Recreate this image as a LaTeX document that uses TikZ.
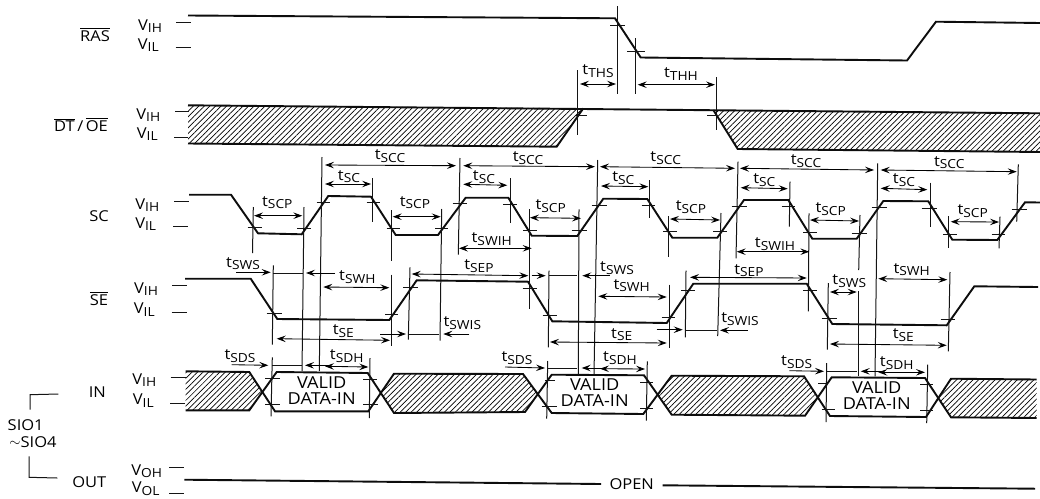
\documentclass[tikz,border=0pt]{standalone}
\usepackage{fontspec}
\setmainfont[FakeStretch=1.1]{Open Sans}
\usetikzlibrary{arrows.meta,patterns.meta}
\newcommand\subt[1]{\raisebox{-2.4pt}{\fontsize{12.5}{13}\selectfont #1}}
\newcommand\tim[1]{t\subt{#1}}
\newcommand\ovl[1]{\leavevmode\vbox{\hrule height .9pt\kern 1.3pt\hbox{#1}}}
\tikzset{
  signal/.style={line width=1.9pt,line join=miter,black!95},
  fine/.style={line width=1pt,black!92},
  dimboth/.style={line width=.85pt,{Stealth[length=9pt,width=6.5pt,inset=3.5pt]}-{Stealth[length=9pt,width=6.5pt,inset=3.5pt]}},
  dimone/.style={line width=.85pt,-{Stealth[length=9pt,width=6.5pt,inset=3.5pt]}},
  txt/.style={inner sep=0pt,font=\fontsize{15}{16}\selectfont},
  hatch/.style={pattern={Lines[angle=45,distance=3.9pt,line width=.7pt]},draw=none}
}
\begin{document}
\begin{tikzpicture}[x=1pt,y=-1pt]
\useasboundingbox[fill=white] (0,0) rectangle (1040,498);
% hatching
\path[hatch] (188,105.3)--(583.3,108.3)--(556.7,146.7)--(188,143.5)--cycle;
\path[hatch] (713.3,110)--(1040,113)--(1040,152)--(737.7,149)--cycle;
\path[hatch] (185.7,371.3)--(249.3,372)--(262.5,391)--(249.3,410.3)--(185.7,410.3)--cycle;
\path[hatch] (381,392)--(394,373.7)--(523,374)--(537.5,393.5)--(525,412)--(394,413)--cycle;
\path[hatch] (657.7,395)--(671.7,375.7)--(804,376.3)--(818,396)--(805,415.7)--(671.7,414.7)--cycle;
\path[hatch] (938,398)--(951,378.7)--(1036.5,379.5)--(1036.5,418)--(951,417.3)--cycle;
% signals
\draw[signal] (188,15.5)--(615,18.3)--(640.7,57.5)--(907,60.5)--(936,21.7)--(1040,23);
\draw[signal] (188,105.3)--(1040,113.3);
\draw[signal] (188,143.5)--(556.7,146.7)--(583.3,108.3);
\draw[signal] (713.3,110)--(737.7,149)--(1040,152);
\draw[signal] (189,194.7)--(231,194.7)--(258,233.3)--(301.7,234.3)--(328.3,196)--(371,196.7)--(395.7,235)--(438,235)--(465.7,197.7)--(508.3,197.7)--(531.7,235.7)--(577.3,236)--(603.3,198.7)--(647.3,199)--(672.3,237.7)--(717.3,237.7)--(744,200)--(788.3,200)--(812.3,238.7)--(856.7,238.7)--(883.3,201)--(928.3,201.3)--(952.3,239.7)--(997.3,240)--(1025,202.3)--(1040,202.5);
\draw[signal] (185,278.7)--(250.7,278.7)--(277.3,319)--(389.3,320)--(416.7,280.3)--(528,281.7)--(552.3,321.3)--(666.7,323)--(693.3,283.7)--(806.7,283.7)--(832.3,324)--(946.7,325.3)--(974.3,286.3)--(1038,287);
\draw[signal] (185.7,371.3)--(249.3,372)--(275,411.3)--(368.3,411.3)--(394,373.7)--(523,374)--(551.7,413)--(643.3,414)--(671.7,375.7)--(804,376.3)--(830,416)--(926,417)--(951,378.7)--(1036.5,379.5);
\draw[signal] (185.7,410.3)--(249.3,410.3)--(276.7,372)--(367.7,373)--(394,413)--(525,412)--(551.7,374.7)--(644,375.3)--(671.7,414.7)--(805,415.7)--(831.7,377.3)--(925,378)--(951,417.3)--(1036.5,418);
\draw[signal] (184.3,479.7)--(601,484);
\node[txt] (open) at (631.7,484) {OPEN};
\draw[signal] (662.7,485.3)--(1035,488.7);
% level dashes
\foreach \a/\b/\y in {176/190.7/22.3,175.7/190.7/47.7,175/189.3/111.7,174.3/188.3/137.3,174.3/188.7/201,173.3/188.3/226.7,172.3/187.3/285.3,171.7/186.7/312.3,170.7/185.7/377.3,170/185/403,169.3/184.3/467.3,169.3/184.3/493}
  \draw[fine] (\a,\y)--(\b,\y);
% reference ticks
\foreach \a/\b/\y in {610/625/25.7,627/645/51.7,575/587/115,707/717/115,
 247.5/262/227.3,297/311/228,316.7/330/202.3,366.7/380/202.3,386.7/400/228.3,435/448.3/228.7,452.7/466.7/203.3,503/516.7/204,523/537/230,571.7/586.7/230.7,591.7/606.7/205,641.7/655/205.7,663/677/231.7,713/727/231.7,731.7/746.7/206.7,781.7/795/206.7,803/816.7/232.3,851.7/866.7/233,871.7/886.7/207.3,921.7/936.7/208,943/956.7/234.3,991.7/1005/234.3,1011.7/1026.7/209,
 266.7/281.7/313,385/398.3/314.7,403.3/418.3/287.3,522.7/536.7/288,542.7/556.7/315.7,661.7/675/317,681.3/695/290.3,803.3/816.7/290.3,821.7/836.7/318,940.7/955/319,
 265/280/378,363/376.7/379.7,363/378/404.7,265/280/404,545/555/380.7,640/653/382,541.7/556.7/406.3,640/653/408,818/828/383,920/933/384,821.7/835/409,920/933/410.3}
  \draw[fine] (\a,\y)--(\b,\y);
% verticals
\foreach \a/\p/\b/\q in {617.7/6/617.7/94,635.7/38/635.7/94,577.7/70/577.7/135,716/77/716/130,
 253.3/207/252.5/253,304/207/302/371,322/157/319.3/371,372.7/178/372.7/222,391/210/391/260.7,391.7/274.7/391.7/346,441.7/209/440/340.7,460/158/458.3/254.7,
 510.3/178.3/510.3/223.3,529/209/529/309,579/209.3/578.3/374.7,597.7/160/594/374.7,649.7/180/649.7/218.3,668.3/216/668.3/257,669/284.7/669/348,721/213/717.7/336,738/161.7/736/258.3,790/181.7/789.3/226.7,809/213.3/808.3/311.3,860/215/858.7/270,858.3/291.3/858.3/376.3,877.7/163.3/875/376.3,930/182.7/930/226.7,948.3/216/948.3/248.3,1000/216.7/999/248.3,1018.3/164.3/1016.7/221.7,
 273.3/265.3/272.3/344.7,410/267.3/408.3/339.7,549/270.7/548.3/347.3,686/270.7/685.3/337.3,828.3/283/827.3/349.7,950/272/948.3/351.3,
 272.3/357.3/271/416.3,370/358/369.3/418,547.7/361/546.7/418.7,647.3/361.3/646.3/420.7,826.7/363/826/422,927.7/364.7/926.7/423}
  \draw[fine] (\a,\p)--(\b,\q);
% horizontal extension lines
\foreach \a/\b/\y in {273.3/303.3/273,549/577.3/275.7,409.3/439.3/334.7,685.7/716.7/330.3,272.3/301.7/365.3,548/576.7/368,827.3/856.7/371.3}
  \draw[fine] (\a,\y)--(\b,\y);
% double arrows
\foreach \a/\p/\b/\q in {580/84/616/84,637.7/84.7/715/84.7,
 325/165/456/165.7,463.3/165.7/595/166.7,600/166.7/735/168.3,740/168.3/874/170,880.7/170/1016.7/171.7,
 325/184/371/184,463.3/184.3/507.3/185.3,601/186/648.3/186.7,740.7/187.7/787.7/188.7,880.7/188.3/927.3/189.7,
 254/215.7/302.3/215.7,392.7/216.7/440.7/216.7,530/217.7/581/218.3,670/219/720/220,810/220/859/221,950.7/221.7/999/222,
 459/248.3/531.7/248.3,736.7/251.7/809.3/251.7,
 830/292/856.7/292,323.3/287/389.3/287.7,598.3/296.3/666.7/297,878.3/278.7/947.3/279.7,
 411.7/274/528.3/275.7,690/277.3/806.7/278,
 276.7/338.7/390/340.3,550/342/666.7/343,830/344/946.7/345.3,
 325/366.3/368.3/367,600/368.7/645/369,878.3/372.3/925/372.3}
  \draw[dimboth] (\a,\p)--(\b,\q);
% single arrows
\foreach \a/\p/\b/\q in {236/272.3/270.7/272.3,335/273/306/273,531.7/275.7/545.7/275.7,610/275.7/582.3/275.7,
 380/334/406/334,469.3/334/443.3/334,656.7/329.7/682.7/329.7,747.7/330.3/720/330.3,
 231.7/364.7/268.3/365.3,328/365.3/305/365.3,505/367/545/368,603/368/581.7/368,789.3/370.7/824/371.3,881.7/371.3/860.7/371.3}
  \draw[dimone] (\a,\p)--(\b,\q);
% timing labels
\foreach \x/\y/\s [count=\n] in {598/71/THS,681/74/THH,
 390/156/SCC,528/158/SCC,665.7/158.3/SCC,806/161/SCC,949.3/162.7/SCC,
 349/176.7/SC,484/177.3/SC,623.3/178.3/SC,764.3/180/SC,904/180.3/SC,
 277.3/202.7/SCP,415/202.7/SCP,550.7/206/SCP,691/207.3/SCP,830.7/209/SCP,972.7/211/SCP,
 491.7/239/SWIH,775/244/SWIH,
 243/263.7/SWS,617/268/SWS,849.3/281.3/SWS,
 357.3/277.3/SWH,631.7/285.7/SWH,911.7/269.7/SWH,
 479/266/SEP,749/270.7/SEP,
 343.3/331.3/SE,621.7/334.7/SE,903.3/335.3/SE,
 462.3/323/SWIS,740/319/SWIS,
 240/356.3/SDS,517/358/SDS,796.7/362/SDS,
 346.7/356.3/SDH,620/358/SDH,896.7/363/SDH}
  \node[txt] (tl\n) at (\x,\y) {\tim{\s}};
% data labels
\foreach \x/\y/\n in {321.7/390.5/a,594.7/393/b,876.7/395.5/c}
  \node[txt,align=center,font=\fontsize{16.5}{16}\selectfont] (valid\n) at (\x,\y) {VALID\\DATA-IN};
% level labels
\foreach \x/\y/\s [count=\n] in {150/26/IH,148.3/45/IL,148.3/115/IH,147.3/134.3/IL,147.3/205/IH,145.7/224/IL,146/289/IH,144.3/309.7/IL,144.3/380.3/IH,143.3/400.7/IL,146.7/471/OH,145.7/488.5/OL}
  \node[txt] (lv\n) at (\x,\y) {V\subt{\s}};
% signal names
\node[txt] (ras) at (95,35) {\ovl{RAS}};
\node[txt] (dtoe) at (81,125) {\ovl{DT}\,/\,\ovl{OE}};
\node[txt] (sc) at (99,216) {SC};
\node[txt] (se) at (99,299) {\ovl{SE}};
\node[txt] (in) at (97.3,392) {IN};
\node[txt] (out) at (89.3,482) {OUT};
\node[txt] (sio1) at (25.7,424.7) {SIO1};
\node[txt] (sio4) at (33,442) {\raisebox{.5pt}{$\sim$}SIO4};
\draw[fine] (58.3,394)--(30,394.7)--(30,409.7);
\draw[fine] (29,456.3)--(29,477.3)--(57.3,478);
\end{tikzpicture}
\end{document}
